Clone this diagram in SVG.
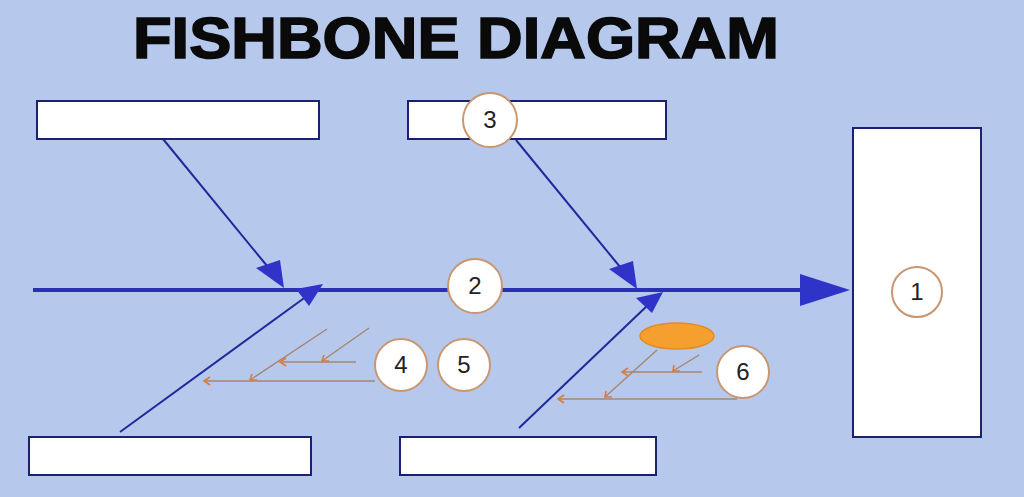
<svg xmlns="http://www.w3.org/2000/svg" width="1024" height="497" viewBox="0 0 1024 497">
<defs>
<style>
.box{fill:#ffffff;stroke:#1c226e;stroke-width:2}
.bone{stroke:#1e2a9a;stroke-width:2;fill:none}
.spine{stroke:#2a30b4;stroke-width:4;fill:none}
.head{fill:#2f33c8}
.sub{stroke:#a88470;stroke-width:1.4;fill:none}
.subarr{stroke:#e07a3a;stroke-width:1.6;fill:none}
.num{fill:#ffffff;stroke:#c89670;stroke-width:2}
.numt{font-family:"Liberation Sans",Arial,sans-serif;font-size:24px;fill:#222;text-anchor:middle}
</style>
</defs>
<rect width="1024" height="497" fill="#b6c9ec"/>
<text x="133" y="58" font-family="Liberation Sans,Arial,sans-serif" font-weight="bold" font-size="58" fill="#0a0a0a" stroke="#0a0a0a" stroke-width="1.6" textLength="646" lengthAdjust="spacingAndGlyphs">FISHBONE DIAGRAM</text>

<g id="connectors">
<line class="spine" x1="33" y1="290" x2="805" y2="290"/>
<polygon class="head" points="800,274 850,290 800,306"/>
<line class="bone" x1="163" y1="139" x2="272" y2="272"/>
<polygon class="head" points="284,288 256,268 280,260"/>
<line class="bone" x1="516" y1="140" x2="625" y2="273"/>
<polygon class="head" points="637,289 609,269 633,261"/>
<line class="bone" x1="120" y1="432" x2="307" y2="296"/>
<polygon class="head" points="323,284 309,306 296,289"/>
<line class="bone" x1="519" y1="428" x2="648" y2="305"/>
<polygon class="head" points="663,292 652,313 636,298"/>
</g>

<g id="sub-bones-left">
<line class="sub" x1="375" y1="381" x2="204" y2="381"/>
<path class="subarr" d="M210,377 L204,381 L210,385"/>
<line class="sub" x1="327" y1="329" x2="250" y2="380"/>
<path class="subarr" d="M252,374 L250,380 L257,380"/>
<line class="sub" x1="356" y1="362" x2="280" y2="362"/>
<path class="subarr" d="M286,358 L280,362 L286,366"/>
<line class="sub" x1="369" y1="328" x2="322" y2="361"/>
<path class="subarr" d="M324,355 L322,361 L329,361"/>
</g>

<g id="sub-bones-right">
<line class="sub" x1="737" y1="399" x2="558" y2="399"/>
<path class="subarr" d="M564,395 L558,399 L564,403"/>
<line class="sub" x1="657" y1="350" x2="605" y2="397"/>
<path class="subarr" d="M606,391 L605,397 L612,397"/>
<line class="sub" x1="702" y1="372" x2="622" y2="372"/>
<path class="subarr" d="M628,368 L622,372 L628,376"/>
<line class="sub" x1="699" y1="355" x2="673" y2="371"/>
<path class="subarr" d="M674,365 L673,371 L680,371"/>
<ellipse cx="677" cy="336" rx="37" ry="13" fill="#f5a02e" stroke="#e58a22" stroke-width="1.5"/>
</g>

<g id="box-top-left"><rect class="box" x="37" y="101" width="282" height="38"/></g>
<g id="box-top-mid"><rect class="box" x="408" y="101" width="258" height="38"/></g>
<g id="box-bottom-left"><rect class="box" x="29" y="437" width="282" height="38"/></g>
<g id="box-bottom-mid"><rect class="box" x="400" y="437" width="256" height="38"/></g>
<g id="box-effect"><rect class="box" x="853" y="128" width="128" height="309"/></g>

<g id="n1"><circle class="num" cx="917" cy="292" r="25"/><text class="numt" x="917" y="300">1</text></g>
<g id="n2"><circle class="num" cx="475" cy="286" r="27"/><text class="numt" x="475" y="294">2</text></g>
<g id="n3"><circle class="num" cx="490" cy="120" r="27"/><text class="numt" x="490" y="128">3</text></g>
<g id="n4"><circle class="num" cx="401" cy="365" r="26"/><text class="numt" x="401" y="373">4</text></g>
<g id="n5"><circle class="num" cx="464" cy="365" r="26"/><text class="numt" x="464" y="373">5</text></g>
<g id="n6"><circle class="num" cx="743" cy="372" r="26"/><text class="numt" x="743" y="380">6</text></g>
</svg>
